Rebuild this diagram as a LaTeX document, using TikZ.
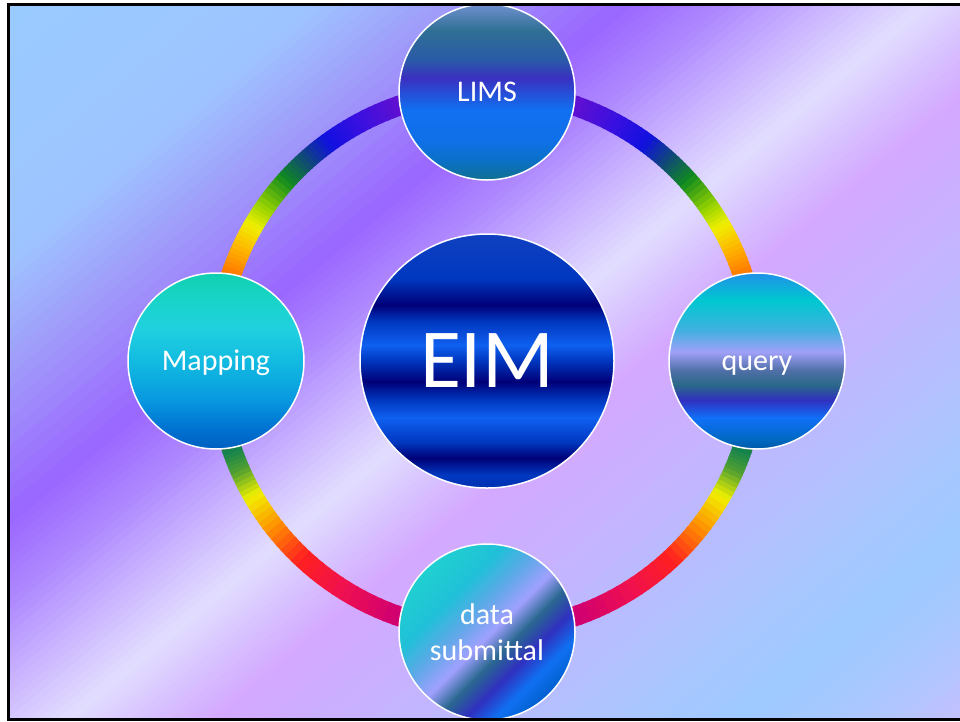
\documentclass[tikz,border=0pt]{standalone}
\usepackage{fontspec}
\setmainfont{Carlito}

% backdrop colour stops (light blue -> violet -> pale -> light blue)
\definecolor{bgA}{HTML}{98CCFF}
\definecolor{bgB}{HTML}{9EC4FF}
\definecolor{bgC}{HTML}{A09AFA}
\definecolor{bgD}{HTML}{9A66FF}
\definecolor{bgE}{HTML}{AE88FF}
\definecolor{bgF}{HTML}{CAB4FF}
\definecolor{bgG}{HTML}{E2DEFF}
\definecolor{bgH}{HTML}{D8C4FF}
\definecolor{bgI}{HTML}{D4A8FF}
\definecolor{bgJ}{HTML}{C4B4FF}
\definecolor{bgK}{HTML}{AEC4FF}
\definecolor{bgL}{HTML}{9ECAFF}
\definecolor{bgM}{HTML}{A8C8FF}
\definecolor{bgN}{HTML}{C8BEFF}

% rainbow ring colour stops
\definecolor{rgA}{HTML}{6010D0}
\definecolor{rgB}{HTML}{3A10E0}
\definecolor{rgC}{HTML}{1010E0}
\definecolor{rgD}{HTML}{104878}
\definecolor{rgE}{HTML}{108A20}
\definecolor{rgF}{HTML}{90D000}
\definecolor{rgG}{HTML}{F0F000}
\definecolor{rgH}{HTML}{FFB000}
\definecolor{rgI}{HTML}{FF7000}
\definecolor{rgJ}{HTML}{108050}
\definecolor{rgK}{HTML}{50A030}
\definecolor{rgL}{HTML}{FF9000}
\definecolor{rgM}{HTML}{FF2020}
\definecolor{rgN}{HTML}{F01050}
\definecolor{rgO}{HTML}{D00070}

% centre disc
\definecolor{eimB}{HTML}{0030B0}
\definecolor{eimMid}{HTML}{0038C0}
\definecolor{eimDark}{HTML}{000078}
\definecolor{eimBright}{HTML}{1060F0}
\definecolor{eimTop}{HTML}{1040C0}
\pgfdeclareverticalshading{eimfill}{100bp}{%
  color(0bp)=(eimB); color(25bp)=(eimB); color(27.6bp)=(eimMid);
  color(30.9bp)=(eimDark); color(34.1bp)=(eimMid); color(38.8bp)=(eimBright);
  color(42.3bp)=(eimMid); color(45.9bp)=(eimDark); color(50.2bp)=(eimMid);
  color(53.1bp)=(eimBright); color(57.7bp)=(eimMid); color(61bp)=(eimDark);
  color(66.3bp)=(eimMid); color(75bp)=(eimTop); color(100bp)=(eimTop)}

% LIMS disc
\definecolor{lmA}{HTML}{107090}
\definecolor{lmB}{HTML}{0A70C8}
\definecolor{lmC}{HTML}{1070E8}
\definecolor{lmD}{HTML}{1070F0}
\definecolor{lmE}{HTML}{3A30C0}
\definecolor{lmF}{HTML}{2A5AA8}
\definecolor{lmG}{HTML}{307094}
\definecolor{lmH}{HTML}{7090D0}
\pgfdeclareverticalshading{limsfill}{100bp}{%
  color(0bp)=(lmA); color(25bp)=(lmA); color(30.7bp)=(lmB); color(36.4bp)=(lmC);
  color(44.9bp)=(lmD); color(54bp)=(lmE); color(59.1bp)=(lmF);
  color(67.6bp)=(lmG); color(75bp)=(lmH); color(100bp)=(lmH)}

% Mapping disc
\definecolor{mpA}{HTML}{0060C0}
\definecolor{mpB}{HTML}{0070D0}
\definecolor{mpC}{HTML}{0898E0}
\definecolor{mpD}{HTML}{10B8E0}
\definecolor{mpE}{HTML}{20D0E0}
\definecolor{mpF}{HTML}{18D4C8}
\definecolor{mpG}{HTML}{10D0B0}
\pgfdeclareverticalshading{mapfill}{100bp}{%
  color(0bp)=(mpA); color(25bp)=(mpA); color(30.4bp)=(mpB); color(38.9bp)=(mpC);
  color(48.9bp)=(mpD); color(58.8bp)=(mpE); color(67.3bp)=(mpF);
  color(75bp)=(mpG); color(100bp)=(mpG)}

% query disc
\definecolor{qyA}{HTML}{0058A8}
\definecolor{qyB}{HTML}{0068C0}
\definecolor{qyC}{HTML}{1070F8}
\definecolor{qyD}{HTML}{3030C0}
\definecolor{qyE}{HTML}{2A6888}
\definecolor{qyF}{HTML}{5070A8}
\definecolor{qyG}{HTML}{A0A0F8}
\definecolor{qyH}{HTML}{40B0E0}
\definecolor{qyI}{HTML}{00C8D0}
\definecolor{qyJ}{HTML}{2090E8}
\pgfdeclareverticalshading{queryfill}{100bp}{%
  color(0bp)=(qyA); color(25bp)=(qyA); color(27.6bp)=(qyB); color(33.8bp)=(qyC);
  color(38.9bp)=(qyD); color(43.2bp)=(qyE); color(47.4bp)=(qyF);
  color(52.6bp)=(qyG); color(58.8bp)=(qyH); color(67.3bp)=(qyI);
  color(75bp)=(qyJ); color(100bp)=(qyJ)}

% data submittal disc (diagonal)
\definecolor{dsA}{HTML}{20D0D0}
\definecolor{dsB}{HTML}{20C0D8}
\definecolor{dsC}{HTML}{60A8E8}
\definecolor{dsD}{HTML}{A0A0FF}
\definecolor{dsE}{HTML}{2A6890}
\definecolor{dsF}{HTML}{3030C0}
\definecolor{dsG}{HTML}{1070F0}
\definecolor{dsH}{HTML}{0060D0}
\pgfdeclarehorizontalshading{datafill}{100bp}{%
  color(0bp)=(dsA); color(25bp)=(dsA); color(36bp)=(dsB); color(44bp)=(dsC);
  color(51bp)=(dsD); color(57bp)=(dsE); color(63bp)=(dsF);
  color(69bp)=(dsG); color(75bp)=(dsH); color(100bp)=(dsH)}

% one diagonal stretch of the backdrop: s = x + 1.2 y runs from #1 to #2
\newcommand\bgband[4]{%
  \foreach \k in {0,...,9}{%
    \pgfmathsetmacro\sa{#1+(#2-#1)*\k/10}%
    \pgfmathsetmacro\sb{#1+(#2-#1)*(\k+1)/10+1.5}%
    \pgfmathtruncatemacro\mx{100-(\k*10+5)}%
    \fill[#3!\mx!#4] (-10,{(\sa+10)/1.2}) -- (970,{(\sa-970)/1.2})
      -- (970,{(\sb-970)/1.2}) -- (-10,{(\sb+10)/1.2}) -- cycle;
  }%
}

% one stretch of the ring, mirrored on both sides; t is measured from the top
\newcommand\ringarc[4]{%
  \foreach \k in {0,...,5}{%
    \pgfmathsetmacro\ta{#1+(#2-#1)*\k/6}%
    \pgfmathsetmacro\tb{#1+(#2-#1)*(\k+1)/6+0.4}%
    \pgfmathtruncatemacro\mx{100-(\k*100+50)/6}%
    \draw[ring, draw=#3!\mx!#4] (hub) ++({\ta-90}:270)
      arc[start angle={\ta-90}, end angle={\tb-90}, radius=270];
    \draw[ring, draw=#3!\mx!#4] (hub) ++({270-\ta}:270)
      arc[start angle={270-\ta}, end angle={270-\tb}, radius=270];
  }%
}

\tikzset{
  ring/.style={line width=20},
  bubble/.style={circle, draw=white, line width=1.5, text=white, inner sep=0pt,
    minimum size=176, font=\fontsize{30}{36}\selectfont},
  oneline/.style={text height=24pt, text depth=6pt},
  hubdisc/.style={circle, draw=white, line width=1.5, text=white, inner sep=0pt,
    minimum size=254, font=\fontsize{84}{90}\selectfont},
  frameline/.style={draw=black, line width=3}
}

\begin{document}
\begin{tikzpicture}[x=1pt, y=-1pt]
\useasboundingbox (0,0) rectangle (960,721);
\fill[white] (0,0) rectangle (960,721);

% backdrop
\begin{scope}
  \clip (8,4) rectangle (960,720);
  \bgband{-20}{320}{bgA}{bgB}
  \bgband{320}{460}{bgB}{bgC}
  \bgband{460}{630}{bgC}{bgD}
  \bgband{630}{730}{bgD}{bgE}
  \bgband{730}{830}{bgE}{bgF}
  \bgband{830}{930}{bgF}{bgG}
  \bgband{930}{1000}{bgG}{bgH}
  \bgband{1000}{1080}{bgH}{bgI}
  \bgband{1080}{1250}{bgI}{bgJ}
  \bgband{1250}{1450}{bgJ}{bgK}
  \bgband{1450}{1600}{bgK}{bgL}
  \bgband{1600}{1700}{bgL}{bgM}
  \bgband{1700}{1850}{bgM}{bgN}
\end{scope}

\coordinate (hub) at (487,361);

% rainbow ring
\ringarc{10}{19}{rgA}{rgA}
\ringarc{19}{28}{rgA}{rgB}
\ringarc{28}{36}{rgB}{rgC}
\ringarc{36}{42}{rgC}{rgD}
\ringarc{42}{48}{rgD}{rgE}
\ringarc{48}{55}{rgE}{rgF}
\ringarc{55}{60}{rgF}{rgG}
\ringarc{60}{66}{rgG}{rgH}
\ringarc{66}{72}{rgH}{rgI}
\ringarc{72}{109}{rgI}{rgJ}
\ringarc{109}{114}{rgJ}{rgK}
\ringarc{114}{120}{rgK}{rgG}
\ringarc{120}{128}{rgG}{rgL}
\ringarc{128}{137}{rgL}{rgM}
\ringarc{137}{148}{rgM}{rgN}
\ringarc{148}{160}{rgN}{rgO}
\ringarc{160}{170}{rgO}{rgO}

% discs
\node[hubdisc, shading=eimfill] (eim) at (hub) {EIM};
\node[bubble, shading=limsfill] (lims) at (487,92) {LIMS};
\node[bubble, oneline, shading=mapfill] (mapping) at (216,361) {Mapping};
\node[bubble, oneline, shading=queryfill] (query) at (757,361) {query};
\node[bubble, shading=datafill, shading angle=-45, align=center] (data) at (487,632) {data\\submittal};

% frame
\draw[frameline] (8,4) rectangle (966,719.5);
\end{tikzpicture}
\end{document}
